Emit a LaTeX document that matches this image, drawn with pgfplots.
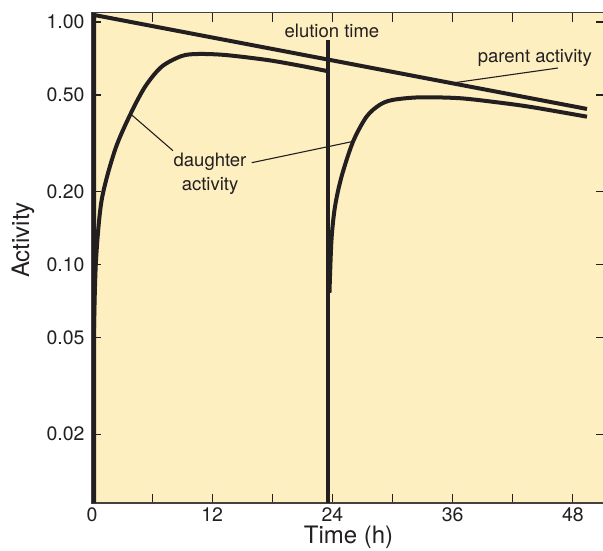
\documentclass[border=0pt]{standalone}
\usepackage{fontspec}
\setmainfont{TeX Gyre Heros}
\usepackage{pgfplots}
\pgfplotsset{compat=1.18}
\definecolor{bgy}{RGB}{253,239,192}
\definecolor{ink}{RGB}{35,31,32}
\begin{document}
\begin{tikzpicture}
\begin{axis}[
  at={(92pt,-503pt)}, anchor=south west,
  scale only axis, width=513pt, height=490.5pt,
  xmin=0, xmax=51.2,
  ymode=log, ymin=0.0104, ymax=1.094,
  axis background/.style={fill=bgy},
  axis line style={line width=1.5pt, ink!85},
  tick style={line width=1.1pt, ink},
  major tick length=9pt,
  yminorticks=false, xminorticks=false,
  /pgf/number format/assume math mode=true,
  xtick={0,6,...,48},
  xticklabels={0,,12,,24,,36,,48},
  ytick={0.02,0.05,0.1,0.2,0.5,1},
  yticklabels={0.02,0.05,0.10,0.20,0.50,1.00},
  ticklabel style={font=\fontsize{19.5}{22}\selectfont, text=ink},
  yticklabel style={xshift=-4pt},
  xticklabel style={yshift=-1pt},
  xlabel={Time (h)}, ylabel={Activity},
  label style={font=\fontsize{24}{28}\selectfont, text=ink},
  xlabel style={at={(axis description cs:0.5,-0.083)}, anchor=base},
  ylabel style={at={(axis description cs:-0.1345,0.536)}, anchor=center},
]
% parent activity with the vertical at t=0
\addplot[ink, line width=4pt, no marks, line join=miter] coordinates {(0.2,0.0104) (0.2,1.069) (49.4,0.438)};
% daughter activity, first growth
\addplot[ink, line width=4pt, no marks, smooth, tension=0.5] coordinates {
(0.2,0.055) (0.4,0.104) (0.97,0.185) (2.3,0.297) (3.8,0.414) (5.3,0.541)
(6.95,0.654) (8.95,0.724) (10.6,0.738) (13.3,0.731) (17.5,0.697)
(20.8,0.660) (23.6,0.626)};
% elution
\addplot[ink, line width=4pt, no marks] coordinates {(23.6,0.0104) (23.6,0.843)};
% daughter activity, second growth
\addplot[ink, line width=4pt, no marks, smooth, tension=0.5] coordinates {
(23.7,0.0764) (23.9,0.126) (24.25,0.173) (24.9,0.230) (26.05,0.321)
(27.4,0.407) (28.7,0.455) (30.0,0.477) (32.7,0.489) (36.7,0.485)
(40.7,0.465) (44.0,0.445) (49.4,0.407)};
% annotations
\node[font=\fontsize{18.5}{24}\selectfont, text=ink] at (axis cs:23.95,0.918) {elution time};
\node[font=\fontsize{18.5}{24}\selectfont, text=ink] at (axis cs:44.2,0.711) {parent activity};
\draw[line width=1.1pt, ink] (axis cs:46.5,0.646) -- (axis cs:36.2,0.562);
\node[font=\fontsize{18.5}{24}\selectfont, text=ink, align=center] at (axis cs:11.78,0.236) {daughter\\activity};
\draw[line width=1.1pt, ink] (axis cs:3.96,0.414) -- (axis cs:8.08,0.2948);
\draw[line width=1.1pt, ink] (axis cs:15.94,0.263) -- (axis cs:25.92,0.321);
\end{axis}
\pgfresetboundingbox
\path[use as bounding box] (0,0) rectangle (603pt,-550pt);
\end{tikzpicture}
\end{document}
